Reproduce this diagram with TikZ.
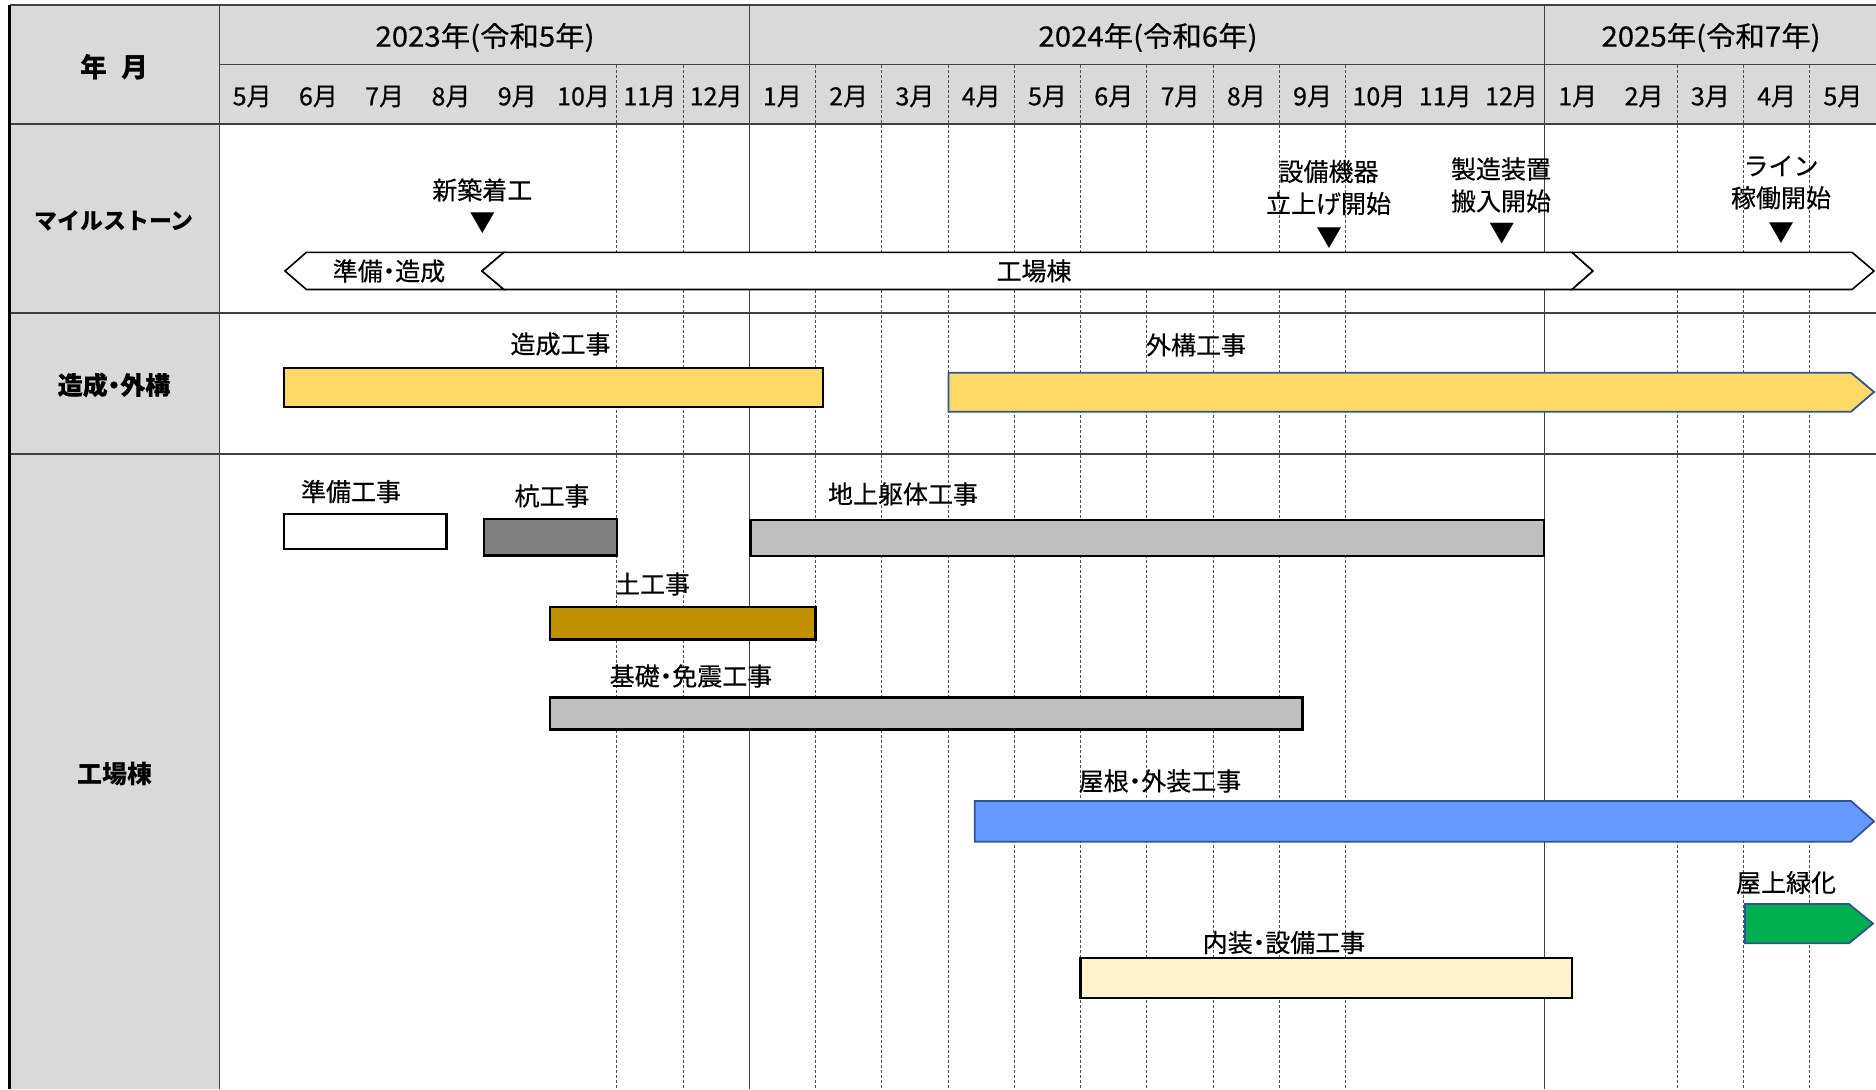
\documentclass[tikz,border=0pt]{standalone}
\usepackage{fontspec}
\setmainfont{Noto Sans CJK JP}
\newfontfamily\mfont{Noto Sans CJK JP}[FakeBold=0.4]
\newfontfamily\pfont{Noto Sans CJK JP}[RawFeature=+palt, FakeBold=0.4]
\newfontfamily\yfont{Noto Sans CJK JP}[FakeBold=0.4, FakeStretch=1.05]
\definecolor{hdrgray}{HTML}{D9D9D9}
\definecolor{linegray}{HTML}{404040}
\definecolor{dashgray}{HTML}{505050}
\definecolor{yellowbar}{HTML}{FFD966}
\definecolor{darkbar}{HTML}{808080}
\definecolor{lightbar}{HTML}{BFBFBF}
\definecolor{earthbar}{HTML}{BF9000}
\definecolor{bluebar}{HTML}{6699FF}
\definecolor{greenbar}{HTML}{00B050}
\definecolor{creambar}{HTML}{FFF2CC}
\definecolor{arrowedge}{HTML}{2F5597}
\tikzset{
  txt/.style={font=\mfont\fontsize{12.5}{16}\selectfont, inner sep=0pt, align=center},
  ptxt/.style={font=\pfont\fontsize{12.5}{16}\selectfont, inner sep=0pt, align=center},
  yeartxt/.style={font=\yfont\fontsize{14}{16}\selectfont, inner sep=0pt},
  lft/.style={font=\fontsize{12.5}{16}\selectfont\bfseries, inner sep=0pt},
  plft/.style={font=\pfont\fontsize{12.5}{16}\selectfont\bfseries, inner sep=0pt},
  vdash/.style={draw=dashgray, line width=0.45pt, dash pattern=on 1.5pt off 1pt},
  yearline/.style={draw=linegray, line width=0.5pt},
  rowline/.style={draw=linegray, line width=0.8pt},
  banner/.style={draw=black, fill=white, line width=0.8pt, line join=miter},
  taskbar/.style={draw=black, line width=1.2pt},
  arrowbar/.style={draw=arrowedge, line width=0.9pt, line join=miter},
}
\begin{document}
\begin{tikzpicture}[x=0.5pt,y=-0.5pt]
\useasboundingbox (0,0) rectangle (1876,1089);
% backgrounds
\fill[hdrgray] (9.7,5) rectangle (219,1089);
\fill[hdrgray] (219,5) rectangle (1876,124);
% month dashed lines
\foreach \k in {6,7,9,10,11,12,13,14,15,16,17,22,23,24}
  \draw[vdash] ({219+66.28*\k},64.5) -- ({219+66.28*\k},1089);
% year solid lines
\foreach \k in {8,20}
  \draw[yearline] ({219+66.28*\k},5) -- ({219+66.28*\k},1089);
% row lines
\draw[yearline] (219,64.5) -- (1876,64.5);
\draw[rowline] (9.7,124) -- (1876,124);
\draw[rowline] (9.7,313) -- (1876,313);
\draw[rowline] (9.7,454) -- (1876,454);
\draw[rowline] (9.7,5) -- (1876,5);
\draw[yearline] (219,5) -- (219,1089);
\draw[draw=black, line width=1.4pt] (9.7,5) -- (9.7,1089);
% header texts
\node[lft, font=\fontsize{13.5}{16}\selectfont\bfseries] (hym) at (114.4,67.5) {年\hspace{0.5em}月};
\node[yeartxt] (y2023) at (485,37.5) {2023年(令和5年)};
\node[yeartxt] (y2024) at (1148,37.5) {2024年(令和6年)};
\node[yeartxt] (y2025) at (1711,37.5) {2025年(令和7年)};
\foreach \m [count=\k] in {5,6,7,8,9,10,11,12,1,2,3,4,5,6,7,8,9,10,11,12,1,2,3,4,5}
  \node[txt] (mon\k) at ({219+66.28*(\k-0.5)},96.5) {\m 月};
% row labels
\node[lft, font=\fontsize{11.5}{16}\selectfont\bfseries] (rms) at (114,221) {マイルストーン};
\node[plft] (rzo) at (114,385) {造成・外構};
\node[lft] (rko) at (114.5,774) {工場棟};
% milestone banners
\draw[banner] (306.4,252.3) -- (504,252.3) -- (482,271) -- (504,289.5) -- (306.4,289.5) -- (285,271) -- cycle;
\draw[banner] (504,252.3) -- (1572,252.3) -- (1593,271) -- (1572,289.5) -- (504,289.5) -- (482,271) -- cycle;
\draw[banner] (1572,252.3) -- (1852,252.3) -- (1874,271) -- (1852,289.5) -- (1572,289.5) -- (1593,271) -- cycle;
\node[ptxt] (bjz) at (389,271) {準備・造成};
\node[txt] (bkj) at (1034,271) {工場棟};
% milestones
\node[txt] (ms1) at (482.3,190) {新築着工};
\node[txt] (ms1t) at (482.3,222.5) {▼};
\node[txt] (ms2) at (1328.5,187.5) {設備機器\\立上げ開始};
\node[txt] (ms2t) at (1329,237.5) {▼};
\node[txt] (ms3) at (1501,185) {製造装置\\搬入開始};
\node[txt] (ms3t) at (1501.7,233) {▼};
\node[txt] (ms4) at (1781,182.5) {ライン\\稼働開始};
\node[txt] (ms4t) at (1781,232.5) {▼};
% 造成・外構 bars
\draw[taskbar, fill=yellowbar] (284,368) rectangle (823,407);
\draw[arrowbar, fill=yellowbar] (948.5,372.7) -- (1851,372.7) -- (1874,392) -- (1851,411.7) -- (948.5,411.7) -- cycle;
\node[txt] (lzo) at (560.5,344) {造成工事};
\node[txt] (lgai) at (1196,345) {外構工事};
% 工場棟 bars
\draw[taskbar, fill=white] (284,514) rectangle (446.6,548.7);
\draw[taskbar, fill=darkbar] (484,518.7) rectangle (617,555.3);
\draw[taskbar, fill=lightbar] (750.6,520) rectangle (1544,556);
\draw[taskbar, fill=earthbar] (549.7,606.7) rectangle (815.3,639.3);
\draw[taskbar, fill=lightbar] (549.7,697.3) rectangle (1302.6,729.3);
\draw[arrowbar, fill=bluebar] (974.7,801) -- (1851,801) -- (1874,821.3) -- (1851,841.7) -- (974.7,841.7) -- cycle;
\draw[arrowbar, fill=greenbar] (1745,904) -- (1849,904) -- (1873,923.6) -- (1849,943.3) -- (1745,943.3) -- cycle;
\draw[taskbar, fill=creambar] (1080.5,958) rectangle (1572,997.7);
\node[txt] (ljb) at (351,491.5) {準備工事};
\node[txt] (lku) at (552,496) {杭工事};
\node[txt] (lcj) at (903,494) {地上躯体工事};
\node[txt] (ldo) at (652.5,584) {土工事};
\node[ptxt] (lki) at (691,676) {基礎・免震工事};
\node[ptxt] (lya) at (1160,781) {屋根・外装工事};
\node[txt] (lok) at (1786,882.5) {屋上緑化};
\node[ptxt] (lna) at (1284,942.5) {内装・設備工事};
\end{tikzpicture}
\end{document}
